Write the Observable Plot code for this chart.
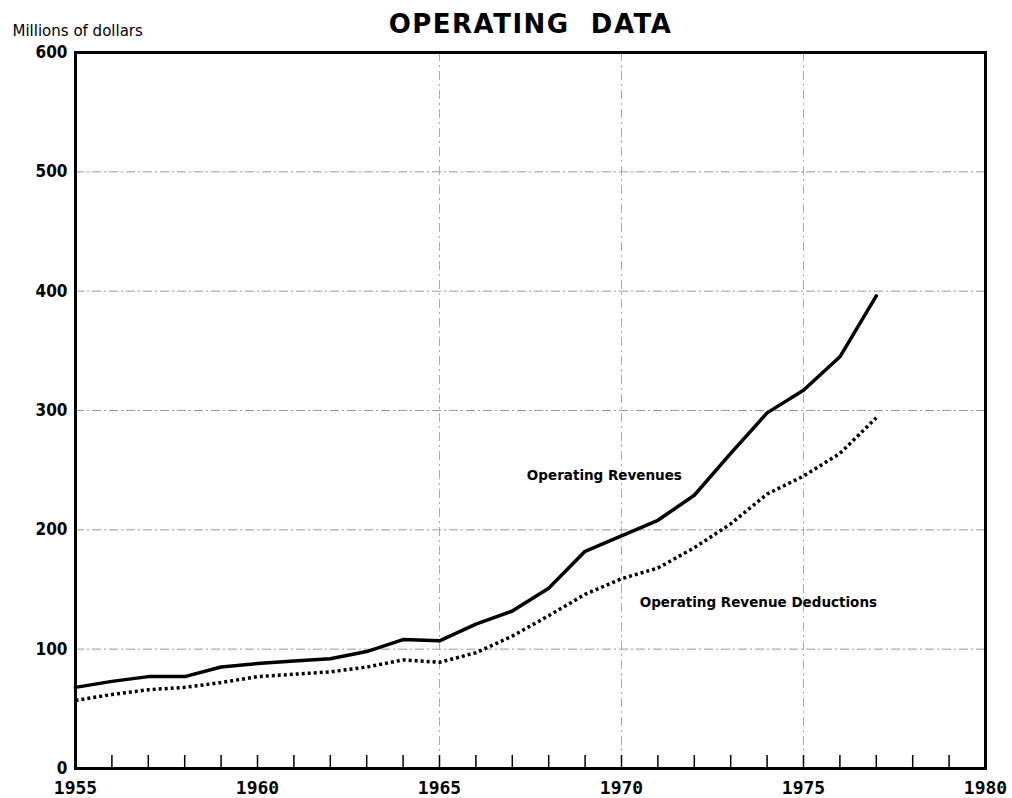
<!DOCTYPE html>
<html>
<head>
<meta charset="utf-8">
<script src="https://cdn.jsdelivr.net/npm/d3@7"></script>
<script src="https://cdn.jsdelivr.net/npm/@observablehq/plot@0.6"></script>
<style>
  html, body { margin: 0; padding: 0; background: #fff; }
  #chart svg { display: block; }
</style>
</head>
<body>
<div id="chart"></div>
<script>
const years = [1955,1956,1957,1958,1959,1960,1961,1962,1963,1964,1965,1966,1967,1968,1969,1970,1971,1972,1973,1974,1975,1976,1977];
const revenues = [68,73,77,77,85,88,90,92,98,108,107,121,132,151,182,195,208,229,264,298,317,345,396];
const deductions = [57,62,66,68,72,77,79,81,85,91,89,97,111,128,146,159,168,185,205,230,245,264,294];
const yTicks = [0,100,200,300,400,500,600];
const xTicks = [1955,1960,1965,1970,1975,1980];
const allYears = d3.range(1955, 1981);
const vGrid = [1965,1970,1975];
const title = "OPERATING  DATA";
const yUnit = "Millions of dollars";
const labels = [
  {text: "Operating Revenues", year: 1967.4, value: 245},
  {text: "Operating Revenue Deductions", year: 1970.5, value: 139}
];

const revData = years.map((y, i) => ({year: y, value: revenues[i]}));
const dedData = years.map((y, i) => ({year: y, value: deductions[i]}));

const chart = Plot.plot({
  width: 1012,
  height: 798,
  marginLeft: 75,
  marginRight: 27,
  marginTop: 52,
  marginBottom: 30,
  style: {background: "#fff", color: "#000"},
  x: {domain: [1955, 1980]},
  y: {domain: [0, 600]},
  marks: [
    Plot.ruleY(yTicks.filter(d => d > 0 && d < 600), {stroke: "#999", strokeWidth: 1, strokeDasharray: "9 3 2 3"}),
    Plot.ruleX(vGrid, {stroke: "#aaa", strokeWidth: 1, strokeDasharray: "9 4 2 4"}),
    Plot.tickX(allYears, {x: d => d, insetTop: 703, stroke: "#000", strokeWidth: 1.5}),
    Plot.axisY({ticks: yTicks, tickSize: 0, tickPadding: 8, tickFormat: d => String(d), fontSize: 17, fontWeight: "bold", fontFamily: "DejaVu Sans Condensed", label: null}),
    Plot.axisX({ticks: xTicks, tickSize: 0, tickPadding: 13, tickFormat: d => String(d), fontSize: 18, fontWeight: "bold", fontFamily: "DejaVu Sans Mono", label: null}),
    Plot.line(dedData, {x: "year", y: "value", stroke: "#000", strokeWidth: 3.5, strokeDasharray: "3 3", strokeLinecap: "butt", curve: "linear"}),
    Plot.line(revData, {x: "year", y: "value", stroke: "#000", strokeWidth: 3.5, curve: "linear"}),
    Plot.text(labels, {x: "year", y: "value", text: "text", textAnchor: "start", fontSize: 13.5, fontWeight: "bold", fontFamily: "DejaVu Sans", fill: "#000"}),
    Plot.frame({stroke: "#000", strokeWidth: 3}),
    Plot.text([title], {frameAnchor: "top", dy: -28, lineAnchor: "middle", fontSize: 26, fontWeight: "bold", fontFamily: "DejaVu Sans", fill: "#000", className: "ttl"}),
    Plot.text([yUnit], {frameAnchor: "top-left", dx: -63, dy: -21, lineAnchor: "middle", textAnchor: "start", fontSize: 15, fontFamily: "DejaVu Sans", fill: "#000"})
  ]
});
d3.select(chart).selectAll(".ttl text").style("letter-spacing", "1.5px");
document.getElementById("chart").appendChild(chart);
</script>
</body>
</html>
